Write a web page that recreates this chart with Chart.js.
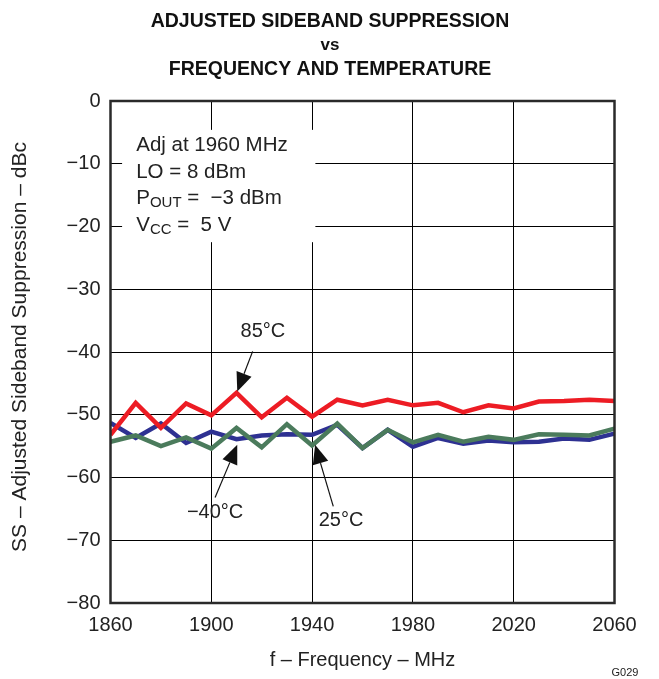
<!DOCTYPE html>
<html>
<head>
<meta charset="utf-8">
<script src="https://cdn.jsdelivr.net/npm/chart.js@4/dist/chart.umd.min.js"></script>
<style>
  html, body { margin: 0; padding: 0; background: #fff; }
  #wrap { width: 659px; height: 679px; position: relative; }
</style>
</head>
<body>
<div id="wrap"><canvas id="chart" width="659" height="679"></canvas></div>
<script>
// Data
const frequencies = [1860, 1870, 1880, 1890, 1900, 1910, 1920, 1930, 1940, 1950, 1960,
                     1970, 1980, 1990, 2000, 2010, 2020, 2030, 2040, 2050, 2060];
const ss85 = [-53.2, -48.1, -52.1, -48.2, -50.1, -46.5, -50.4, -47.3, -50.3, -47.6, -48.5,
              -47.6, -48.5, -48.1, -49.6, -48.5, -49.0, -47.9, -47.8, -47.6, -47.8];
const ssMinus40 = [-51.3, -53.7, -51.4, -54.5, -52.7, -53.9, -53.3, -53.1, -53.2, -51.6, -55.3,
                   -52.4, -55.1, -53.7, -54.6, -54.1, -54.4, -54.3, -53.8, -54.0, -53.0];
const ss25 = [-54.3, -53.3, -55.0, -53.6, -55.4, -52.1, -55.2, -51.5, -54.9, -51.4, -55.3,
              -52.4, -54.4, -53.2, -54.3, -53.5, -54.0, -53.1, -53.2, -53.3, -52.2];
const xTicks = [1860, 1900, 1940, 1980, 2020, 2060];
const yTicks = [0, -10, -20, -30, -40, -50, -60, -70, -80];

const FONT = '"Liberation Sans", Arial, sans-serif';
const TEXT = '#222';

function toPoints(ys) {
    return frequencies.map((f, i) => ({ x: f, y: ys[i] }));
}

// arrow from tail to tip in data coords
function arrow(ctx, xs, ys, tail, tip) {
    const x0 = xs.getPixelForValue(tail[0]), y0 = ys.getPixelForValue(tail[1]);
    const x1 = xs.getPixelForValue(tip[0]), y1 = ys.getPixelForValue(tip[1]);
    const a = Math.atan2(y1 - y0, x1 - x0);
    const len = 19, half = 8;
    const bx = x1 - len * Math.cos(a), by = y1 - len * Math.sin(a);
    ctx.strokeStyle = '#111';
    ctx.lineWidth = 1.2;
    ctx.beginPath();
    ctx.moveTo(x0, y0);
    ctx.lineTo(bx, by);
    ctx.stroke();
    ctx.fillStyle = '#111';
    ctx.beginPath();
    ctx.moveTo(x1, y1);
    ctx.lineTo(bx + half * Math.sin(a), by - half * Math.cos(a));
    ctx.lineTo(bx - half * Math.sin(a), by + half * Math.cos(a));
    ctx.closePath();
    ctx.fill();
}

const decorations = {
    id: 'decorations',
    beforeDatasetsDraw(chart) {
        const { ctx } = chart;
        const xs = chart.scales.x, ys = chart.scales.y;
        // white box for the conditions text
        const l = xs.getPixelForValue(1864.6), r = xs.getPixelForValue(1941.3);
        const t = ys.getPixelForValue(-4.6), b = ys.getPixelForValue(-22.5);
        ctx.save();
        ctx.fillStyle = '#fff';
        ctx.fillRect(l, t, r - l, b - t);

        const tx = xs.getPixelForValue(1870.2);
        ctx.fillStyle = TEXT;
        ctx.textBaseline = 'middle';
        ctx.textAlign = 'left';
        const big = '20.5px ' + FONT, small = '15px ' + FONT;
        const line = (y, parts) => {
            let x = tx;
            parts.forEach(p => {
                ctx.font = p.sub ? small : big;
                ctx.fillText(p.t, x, y + (p.sub ? 5 : 0));
                x += ctx.measureText(p.t).width;
            });
        };
        line(145, [{ t: 'Adj at 1960 MHz' }]);
        line(172, [{ t: 'LO = 8 dBm' }]);
        line(198, [{ t: 'P' }, { t: 'OUT', sub: true }, { t: ' =  \u22123 dBm' }]);
        line(225, [{ t: 'V' }, { t: 'CC', sub: true }, { t: ' =  5 V' }]);
        ctx.restore();
    },
    afterDraw(chart) {
        const { ctx, chartArea: ca } = chart;
        const xs = chart.scales.x, ys = chart.scales.y;
        ctx.save();
        // frame
        ctx.strokeStyle = '#2a2a2a';
        ctx.lineWidth = 2.5;
        ctx.strokeRect(ca.left, ca.top, ca.right - ca.left, ca.bottom - ca.top);

        // curve labels and arrows
        ctx.fillStyle = TEXT;
        ctx.font = '20px ' + FONT;
        ctx.textAlign = 'center';
        ctx.textBaseline = 'middle';
        ctx.fillText('85\u00B0C', xs.getPixelForValue(1920.5), ys.getPixelForValue(-36.8));
        ctx.fillText('\u221240\u00B0C', xs.getPixelForValue(1901.5), ys.getPixelForValue(-65.6));
        ctx.fillText('25\u00B0C', xs.getPixelForValue(1951.5), ys.getPixelForValue(-66.9));
        arrow(ctx, xs, ys, [1916.4, -39.9], [1910.3, -46.3]);
        arrow(ctx, xs, ys, [1901.5, -63.2], [1910.3, -54.8]);
        arrow(ctx, xs, ys, [1948.4, -64.6], [1941.2, -54.8]);

        // titles
        ctx.fillStyle = '#111';
        ctx.textBaseline = 'alphabetic';
        ctx.font = 'bold 19.5px ' + FONT;
        ctx.fillText('ADJUSTED SIDEBAND SUPPRESSION', 330, 27);
        ctx.font = 'bold 17px ' + FONT;
        ctx.fillText('vs', 330, 50);
        ctx.font = 'bold 19.5px ' + FONT;
        ctx.fillText('FREQUENCY AND TEMPERATURE', 330, 75);

        ctx.textBaseline = 'middle';
        ctx.fillStyle = TEXT;
        ctx.font = '20px ' + FONT;
        ctx.fillText('f \u2013 Frequency \u2013 MHz', (ca.left + ca.right) / 2, 660);
        ctx.save();
        ctx.translate(20, 347);
        ctx.rotate(-Math.PI / 2);
        ctx.font = '21px ' + FONT;
        ctx.fillText('SS \u2013 Adjusted Sideband Suppression \u2013 dBc', 0, 0);
        ctx.restore();
        ctx.font = '11px ' + FONT;
        ctx.fillText('G029', 625, 673);
        ctx.restore();
    }
};

new Chart(document.getElementById('chart'), {
    type: 'line',
    data: {
        datasets: [
            { label: '85°C', data: toPoints(ss85), borderColor: '#ED1C24', order: 0 },
            { label: '25°C', data: toPoints(ss25), borderColor: '#4B7B5C', order: 1 },
            { label: '-40°C', data: toPoints(ssMinus40), borderColor: '#2E3192', order: 2 }
        ]
    },
    options: {
        responsive: false,
        animation: false,
        layout: { padding: { top: 101, right: 44.5, left: 0, bottom: 0 } },
        elements: {
            line: { borderWidth: 4.5, tension: 0, borderJoinStyle: 'miter', fill: false },
            point: { radius: 0 }
        },
        plugins: {
            legend: { display: false },
            tooltip: { enabled: false },
            title: { display: false }
        },
        scales: {
            x: {
                type: 'linear',
                min: 1860,
                max: 2060,
                afterBuildTicks: s => { s.ticks = xTicks.map(v => ({ value: v })); },
                afterFit: s => { s.height = 76; },
                grid: { color: '#000', lineWidth: 1, drawTicks: false },
                border: { display: false },
                ticks: {
                    padding: 10, color: TEXT, font: { size: 20, family: FONT }, maxRotation: 0,
                    callback: v => String(v)
                }
            },
            y: {
                min: -80,
                max: 0,
                afterBuildTicks: s => { s.ticks = yTicks.map(v => ({ value: v })); },
                afterFit: s => { s.width = 110.5; },
                grid: { color: '#000', lineWidth: 1, drawTicks: false },
                border: { display: false },
                ticks: {
                    padding: 10, color: TEXT, font: { size: 20, family: FONT },
                    callback: v => v < 0 ? '\u2212' + Math.abs(v) : String(v)
                }
            }
        }
    },
    plugins: [decorations]
});
</script>
</body>
</html>
